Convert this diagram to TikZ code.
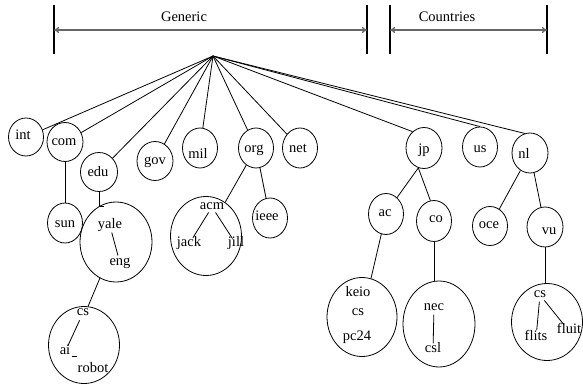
\documentclass[tikz,border=0pt]{standalone}
\usepackage{fontspec}
\setmainfont{Liberation Serif}
\usetikzlibrary{shapes.geometric,arrows.meta}
\begin{document}
\begin{tikzpicture}[x=1pt,y=-1pt,
  ring/.style 2 args={ellipse,draw,line width=0.8pt,inner sep=0pt,minimum width=#1pt,minimum height=#2pt},
  lbl/.style={inner sep=0.5pt,text height=1.45ex,text depth=0.25ex},
  edge/.style={line width=0.8pt},
  bar/.style={line width=2pt},
  span/.style={line width=1.4pt,draw=black!60,{To[length=5pt,width=6pt]}-{To[length=5pt,width=6pt]}},
  font=\fontsize{14.5}{17}\selectfont]
\useasboundingbox (0,0) rectangle (583,385);

% top spans
\coordinate (gL) at (54,30);
\coordinate (gR) at (367,30);
\coordinate (cL) at (390,30);
\coordinate (cR) at (547,30);
\foreach \b in {gL,gR,cL,cR} \draw[bar] (\b) ++(0,-25) -- ++(0,49);
\draw[span] (gL) -- (gR);
\draw[span] (cL) -- (cR);
\node[lbl] (generic) at (184,19) {Generic};
\node[lbl] (countries) at (447,19) {Countries};

% hub
\coordinate (hub) at (213,56);

% first level
\node[ring={35}{38}] (int) at (26,137) {};
\node[ring={36}{39}] (com) at (65,142) {};
\node[ring={37}{39}] (edu) at (99,172) {};
\node[ring={36}{39}] (gov) at (155,161) {};
\node[ring={35}{40}] (mil) at (200,148) {};
\node[ring={35}{40}] (org) at (256,148) {};
\node[ring={35}{40}] (net) at (300,148) {};
\node[ring={36}{41}] (jp) at (424,148) {};
\node[ring={35}{40}] (us) at (480,147) {};
\node[ring={36}{40}] (nl) at (530,153) {};

\node[lbl] at (23,137) {int};
\node[lbl] at (64,143) {com};
\node[lbl] at (98,174) {edu};
\node[lbl] at (155,162) {gov};
\node[lbl] at (198,156) {mil};
\node[lbl] at (254,150) {org};
\node[lbl] at (298,150) {net};
\node[lbl] at (424,151) {jp};
\node[lbl] at (480,150) {us};
\node[lbl] at (524,156) {nl};

\foreach \n in {int,com,edu,gov,mil,org,net} \draw[edge] (hub) -- (\n);
\draw[edge] (hub) -- (jp.125);
\draw[edge] (hub) -- (us.north);
\draw[edge] (hub) -- (nl.105);

% second level
\node[ring={35}{40}] (sun) at (65,223) {};
\node[lbl] at (65,225) {sun};
\node[ring={72}{80}] (yale) at (116,242) {};
\node[ring={71}{77}] (csai) at (84,345) {};
\node[ring={71}{79}] (acm) at (206,236) {};
\node[ring={35}{40}] (ieee) at (270,218) {};
\node[lbl] at (267,218) {ieee};
\node[ring={35}{41}] (ac) at (386,214) {};
\node[lbl] at (385,214) {ac};
\node[ring={35}{41}] (co) at (434,221) {};
\node[lbl] at (436,220) {co};
\node[ring={35}{39}] (oce) at (490,226) {};
\node[lbl] at (489,226) {oce};
\node[ring={36}{40}] (vu) at (545,227) {};
\node[lbl] at (549,232) {vu};
\node[ring={70}{79}] (keio) at (362,317) {};
\node[ring={72}{86}] (nec) at (439,324) {};
\node[ring={71}{77}] (csfl) at (547,322) {};

% labels inside large ellipses
\node[lbl] (tyale) at (110,226) {yale};
\node[lbl] (teng) at (120,263) {eng};
\node[lbl] (tcs1) at (83,313) {cs};
\node[lbl] (tai) at (65,352) {ai};
\node[lbl] (trobot) at (93,370) {robot};
\node[lbl] (tacm) at (212,207) {acm};
\node[lbl] (tjack) at (189,244) {jack};
\node[lbl] (tjill) at (236,244) {jill};
\node[lbl] (tkeio) at (358,294) {keio};
\node[lbl] (tcs2) at (358,313) {cs};
\node[lbl] (tpc) at (357,338) {pc24};
\node[lbl] (tnec) at (434,308) {nec};
\node[lbl] (tcsl) at (433,350) {csl};
\node[lbl] (tcs3) at (540,295) {cs};
\node[lbl] (tflits) at (536,338) {flits};
\node[lbl] (tfluit) at (569,331) {fluit};

% tree edges
\draw[edge] (com) -- (sun);
\coordinate (eduend) at (99,206);
\draw[edge] (edu) -- (eduend) -- ++(5,0);
\draw[edge] (yale.246) -- (csai.84);
\draw[edge] (org) -- (acm);
\draw[edge] (org) -- (ieee);
\draw[edge] (jp.254) -- (ac.56);
\draw[edge] (jp.254) -- (co.100);
\draw[edge] (ac) -- (keio);
\draw[edge] (co.south) -- (co.south |- nec.north);
\draw[edge] (nl) -- (oce);
\draw[edge] (nl) -- (vu);
\draw[edge] (vu.south) -- (vu.south |- csfl.north);

% edges inside large ellipses
\draw[edge,shorten <=2pt,shorten >=3pt] (tyale) -- (teng);
\draw[edge,shorten <=3pt,shorten >=2pt] (tcs1) -- (tai);
\draw[edge] (tai.south east) ++(1,0) -- ++(5,0);
\draw[edge,shorten <=1pt,shorten >=2pt] (tacm) -- (tjack);
\draw[edge,shorten <=1pt,shorten >=1pt] (tacm) -- (tjill);
\draw[edge,shorten <=1pt] (tcs2.south) -- ++(0,1);
\draw[edge,shorten <=2pt,shorten >=2pt] (tnec) -- (tcsl);
\draw[edge,shorten <=2pt,shorten >=3pt] (tcs3) -- (tflits);
\draw[edge,shorten <=1pt,shorten >=2pt] (tcs3) -- (tfluit);
\end{tikzpicture}
\end{document}
